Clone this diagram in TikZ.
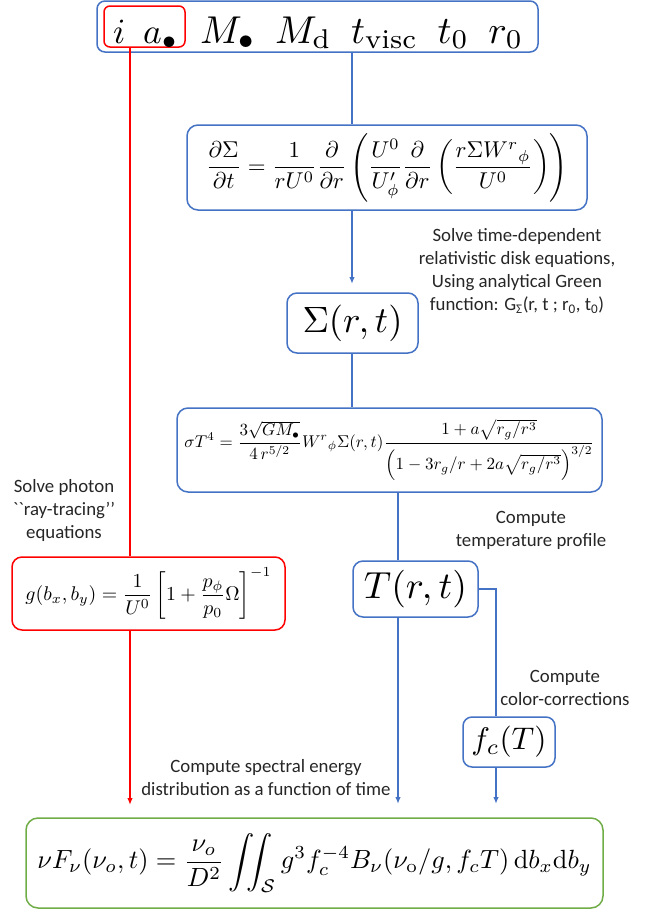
\documentclass[tikz,border=0pt]{standalone}
\usepackage{amsmath,amssymb}
\usepackage{graphicx}
\usepackage{fontspec}
\newfontfamily\lab{Carlito}
\usetikzlibrary{arrows.meta,calc}
\definecolor{bblue}{RGB}{68,114,196}
\definecolor{rred}{RGB}{255,0,0}
\definecolor{ggreen}{RGB}{112,173,71}
\begin{document}
\begin{tikzpicture}[x=1pt,y=-1pt,
  box/.style={draw=bblue, line width=1.5pt, rounded corners=11pt, fill=white, inner sep=0pt},
  rbox/.style={box, draw=rred},
  gbox/.style={box, draw=ggreen},
  bl/.style={draw=bblue, line width=1.5pt},
  rl/.style={draw=rred, line width=1.5pt},
  arr/.style={-{Latex[length=7pt,width=5.5pt]}},
  lbl/.style={font=\lab\fontsize{18.8pt}{23pt}\selectfont, align=center, inner sep=0pt, text=black!85},
  txt/.style={inner sep=0pt}]
\useasboundingbox (0,0) rectangle (657,911);

% top parameter box
\node[box, rounded corners=8pt, minimum width=441pt, minimum height=51pt] (params) at (317.5,26.5) {};
\node[box, draw=rred, fill=none, rounded corners=6pt, minimum width=81pt, minimum height=41pt] (spin) at (144.5,26.5) {};
\node[txt, anchor=base west] (spintext) at (113,43) {\resizebox{65pt}{!}{$i\enspace a_\bullet$}};
\node[txt, anchor=base west] (partext) at (200,43) {\resizebox{323pt}{!}{$M_\bullet\enspace M_{\mathrm d}\enspace t_{\mathrm{visc}}\enspace t_0\enspace r_0$}};

% disk equation
\node[box, minimum width=400pt, minimum height=85pt] (eqdisk) at (387,167.5)
 {\resizebox{362pt}{!}{$\displaystyle \frac{\partial\Sigma}{\partial t}=\frac{1}{rU^0}\frac{\partial}{\partial r}\left(\frac{U^0}{U'_\phi}\frac{\partial}{\partial r}\left(\frac{r\Sigma {W^r}_\phi}{U^0}\right)\right)$}};

\node[box, rounded corners=10pt, minimum width=131pt, minimum height=60pt] (sigma) at (352.5,323) {\resizebox{100pt}{!}{$\Sigma(r,t)$}};

\node[box, minimum width=425pt, minimum height=84pt] (eqtemp) at (389.5,450)
 {\resizebox{410pt}{!}{$\displaystyle \sigma T^4=\frac{3\sqrt{GM_\bullet}}{4\,r^{5/2}}{W^r}_\phi\Sigma(r,t)\frac{1+a\sqrt{r_g/r^3}}{\left(1-3r_g/r+2a\sqrt{r_g/r^3}\right)^{3/2}}$}};

\node[box, rounded corners=10pt, minimum width=125pt, minimum height=56pt] (T) at (415.5,589) {\resizebox{103pt}{!}{$T(r,t)$}};

\node[box, rounded corners=9pt, minimum width=92pt, minimum height=50pt] (fc) at (509,742) {\resizebox{75pt}{!}{$f_c(T)$}};

\node[rbox, rounded corners=10pt, minimum width=273pt, minimum height=73pt] (g) at (148.5,593.5)
 {\resizebox{246pt}{!}{$\displaystyle g(b_x,b_y)=\frac{1}{U^0}\left[1+\frac{p_\phi}{p_0}\Omega\right]^{-1}$}};

\node[gbox, rounded corners=12pt, minimum width=577pt, minimum height=90pt] (sed) at (314.5,863)
 {\resizebox{554pt}{!}{$\displaystyle \nu F_\nu(\nu_o,t)=\frac{\nu_o}{D^2}\iint_{\mathcal S} g^3 f_c^{-4}B_\nu(\nu_{\mathrm o}/g,f_cT)\,\mathrm{d}b_x\mathrm{d}b_y$}};

% labels
\node[lbl] (l1) at (517,271) {Solve time-dependent\\relativistic disk equations,\\Using analytical Green\\function: G\textsubscript{Σ}(r, t ; r\textsubscript{0}, t\textsubscript{0})};
\node[lbl] (l2) at (64,510) {Solve photon\\\textasciigrave\textasciigrave ray-tracing’’\\equations};
\node[lbl] (l3) at (531,530) {Compute\\temperature profile};
\node[lbl] (l4) at (565,688) {Compute\\color-corrections};
\node[lbl] (l5) at (266,778) {Compute spectral energy\\distribution as a function of time};

% connector coordinates
\coordinate (xb) at (352,0);
\coordinate (xt) at (398,0);
\coordinate (xf) at (496,0);
\coordinate (xr) at (130,0);
\coordinate (aend) at (352,284);
\coordinate (tend) at (398,804);
\coordinate (fend) at (496,804);
\coordinate (rend) at (130,805);

\draw[bl] (params.south -| xb) -- (eqdisk.north -| xb);
\draw[bl,arr] (eqdisk.south -| xb) -- (aend);
\draw[bl] (sigma.south -| xb) -- (eqtemp.north -| xb);
\draw[bl] (eqtemp.south -| xt) -- (T.north -| xt);
\draw[bl,arr] (T.south -| xt) -- (tend);
\draw[bl] (T.east) -| (fc.north -| xf);
\draw[bl,arr] (fc.south -| xf) -- (fend);
\draw[rl] (spin.south -| xr) -- (g.north -| xr);
\draw[rl,arr] (g.south -| xr) -- (rend);
\end{tikzpicture}
\end{document}
